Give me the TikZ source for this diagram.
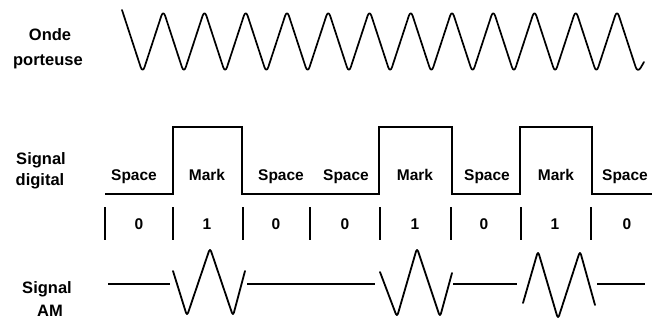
\documentclass[tikz,border=0pt]{standalone}
\usepackage{fontspec}
\setmainfont{Liberation Sans}
\begin{document}
\begin{tikzpicture}[x=1pt,y=-1pt,
  lbl/.style={font=\bfseries\fontsize{15.5}{17}\selectfont, inner sep=0pt, anchor=base},
  side/.style={font=\bfseries\fontsize{16.5}{18}\selectfont, inner sep=0pt, anchor=base},
  carrier/.style={line width=1.7pt, rounded corners=6pt, line join=round, line cap=round},
  digi/.style={line width=2.1pt, line join=miter},
  tick/.style={line width=1.6pt},
  amwave/.style={line width=1.8pt, rounded corners=3.5pt, line join=round, line cap=round},
  base/.style={line width=1.2pt}]
\useasboundingbox (0,0) rectangle (652,325);

% left labels
\node[side] (onde) at (50,40.5) {Onde};
\node[side] (porteuse) at (48,65) {porteuse};
\node[side] (sig1) at (41,164) {Signal};
\node[side] (dig) at (40,185) {digital};
\node[side] (sig2) at (47,293) {Signal};
\node[side] (am) at (50,316) {AM};

% carrier wave
\draw[carrier] (122,10)
  \foreach \k in {0,...,11} { -- ({142.6+41.25*\k},73) -- ({163.25+41.25*\k},10) }
  -- (637.6,73) -- (644,62);

% digital signal
\draw[digi] (105,194) -- (173,194) -- (173,127) -- (242,127) -- (242,194)
  -- (379,194) -- (379,127) -- (452,127) -- (452,194) -- (520,194)
  -- (520,127) -- (592,127) -- (592,194) -- (652,194);

% Space / Mark labels
\foreach \x/\t [count=\i] in {134/Space,207/Mark,281/Space,346/Space,415/Mark,487/Space,556/Mark,625/Space}
  \node[lbl] (sm\i) at (\x,180) {\t};

% bit ticks
\foreach \x [count=\i] in {105,173,243,310,380,451,521,591}
  \draw[tick] (\x,207) coordinate (tt\i) -- (\x,240) coordinate (tb\i);

% bits
\foreach \x/\t [count=\i] in {139/0,207/1,276/0,345/0,415/1,484/0,555/1,627/0}
  \node[lbl] (b\i) at (\x,229) {\t};

% AM signal baseline segments
\draw[base] (108,284) -- (170,284);
\draw[base] (247,284) -- (375,284);
\draw[base] (453,284) -- (517,284);
\draw[base] (597,284) -- (645,284);

% AM bursts
\draw[amwave] (173,271) -- (187,316) -- (210,248) -- (233,316) -- (245,271);
\draw[amwave] (380,272) -- (397,317) -- (417,248) -- (440,317) -- (452,273);
\draw[amwave] (523,303) -- (538,251) -- (558,319) -- (580,251) -- (595,305);
\end{tikzpicture}
\end{document}
